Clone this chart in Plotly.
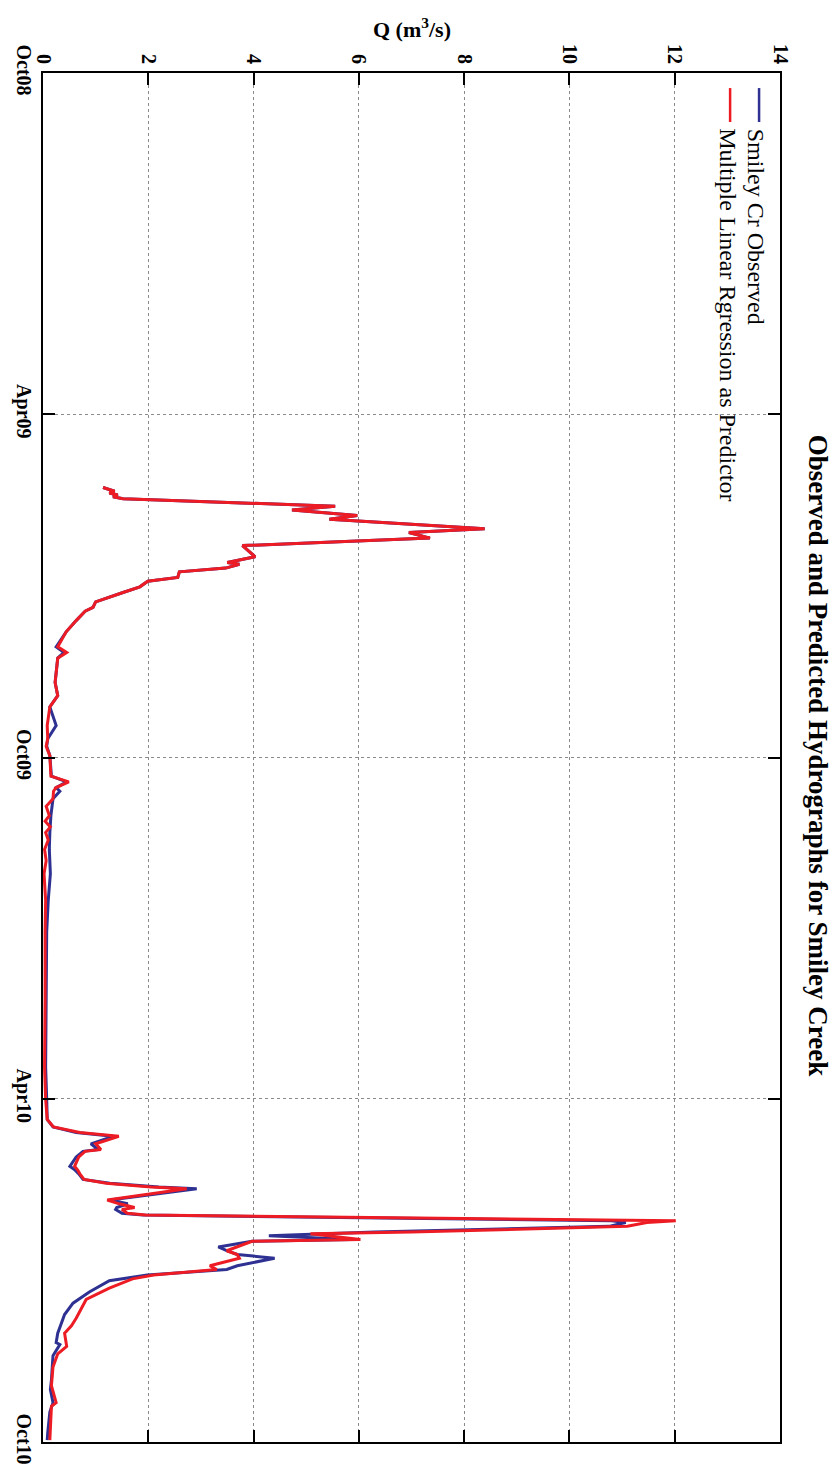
import plotly.graph_objects as go

# ---------------- data ----------------
q_ticks = [0, 2, 4, 6, 8, 10, 12, 14]
date_ticks = ["2008-10-01", "2009-04-01", "2009-10-01", "2010-04-01", "2010-10-01"]
date_labels = ["Oct08", "Apr09", "Oct09", "Apr10", "Oct10"]

obs_dates = [
    "2009-05-10", "2009-05-12", "2009-05-13", "2009-05-14", "2009-05-15", "2009-05-16",
    "2009-05-20", "2009-05-22", "2009-05-25", "2009-05-27", "2009-06-01", "2009-06-03",
    "2009-06-06", "2009-06-10", "2009-06-16", "2009-06-19", "2009-06-20", "2009-06-22",
    "2009-06-24", "2009-06-27", "2009-06-29", "2009-07-02", "2009-07-05", "2009-07-10",
    "2009-07-13", "2009-07-15", "2009-07-20", "2009-07-26", "2009-08-03", "2009-08-06",
    "2009-08-09", "2009-08-22", "2009-08-29", "2009-09-04", "2009-09-14", "2009-09-21",
    "2009-09-25", "2009-09-30", "2009-10-11", "2009-10-14", "2009-10-17", "2009-10-19",
    "2009-10-23", "2009-11-01", "2009-11-10", "2009-11-19", "2009-12-02", "2009-12-16",
    "2010-01-02", "2010-02-07", "2010-03-15", "2010-04-01",
    "2010-04-12", "2010-04-16", "2010-04-19", "2010-04-21", "2010-04-25", "2010-04-28",
    "2010-04-29", "2010-05-02", "2010-05-07", "2010-05-09", "2010-05-11", "2010-05-14",
    "2010-05-16", "2010-05-18", "2010-05-19", "2010-05-25", "2010-05-27", "2010-05-29",
    "2010-05-30", "2010-06-01", "2010-06-02", "2010-06-05", "2010-06-06", "2010-06-08",
    "2010-06-11", "2010-06-13", "2010-06-15", "2010-06-16", "2010-06-19", "2010-06-21",
    "2010-06-23", "2010-06-25", "2010-06-29", "2010-07-01", "2010-07-04", "2010-07-07",
    "2010-07-13", "2010-07-19", "2010-07-25", "2010-08-04", "2010-08-09", "2010-08-10",
    "2010-08-16", "2010-08-29", "2010-09-03", "2010-09-10", "2010-09-15", "2010-09-26",
    "2010-09-30",
]
obs_q = [
    1.14, 1.36, 1.26, 1.42, 1.33, 1.52,
    5.55, 4.73, 5.97, 5.44, 8.39, 6.95,
    7.35, 3.79, 4.03, 3.50, 3.73, 3.47,
    2.59, 2.56, 1.99, 1.84, 1.52, 1.00,
    0.95, 0.80, 0.63, 0.44, 0.25, 0.40,
    0.28, 0.23, 0.28, 0.13, 0.25, 0.09,
    0.07, 0.13, 0.16, 0.45, 0.25, 0.32,
    0.19, 0.15, 0.13, 0.12, 0.14, 0.10,
    0.07, 0.06, 0.05, 0.07,
    0.08, 0.19, 0.63, 1.33, 0.91, 1.05,
    0.76, 0.63, 0.51, 0.61, 0.68, 0.76,
    1.27, 2.20, 2.92, 1.27, 1.61, 1.40,
    1.38, 1.50, 1.90, 10.80, 11.07, 10.75,
    6.30, 4.29, 5.87, 3.97, 3.33, 3.49,
    3.69, 4.40, 3.69, 3.49, 1.98, 1.26,
    0.88, 0.57, 0.41, 0.28, 0.25, 0.32,
    0.19, 0.16, 0.14, 0.19, 0.13, 0.09,
    0.08,
]

pred_dates = [
    "2009-05-10", "2009-05-12", "2009-05-13", "2009-05-14", "2009-05-15", "2009-05-16",
    "2009-05-20", "2009-05-22", "2009-05-25", "2009-05-27", "2009-06-01", "2009-06-03",
    "2009-06-06", "2009-06-10", "2009-06-16", "2009-06-19", "2009-06-20", "2009-06-22",
    "2009-06-24", "2009-06-27", "2009-06-29", "2009-07-02", "2009-07-05", "2009-07-10",
    "2009-07-13", "2009-07-15", "2009-07-20", "2009-07-26", "2009-08-03", "2009-08-06",
    "2009-08-09", "2009-08-22", "2009-08-29", "2009-09-04", "2009-09-14", "2009-09-21",
    "2009-09-25", "2009-09-30", "2009-10-11", "2009-10-14", "2009-10-17", "2009-10-19",
    "2009-10-23", "2009-10-27", "2009-11-01", "2009-11-04", "2009-11-07", "2009-11-10",
    "2009-11-14", "2009-11-19", "2009-11-25", "2009-12-02", "2009-12-16",
    "2010-01-02", "2010-02-07", "2010-03-15", "2010-04-01",
    "2010-04-12", "2010-04-16", "2010-04-19", "2010-04-21", "2010-04-25", "2010-04-28",
    "2010-04-29", "2010-05-02", "2010-05-07", "2010-05-09", "2010-05-11", "2010-05-14",
    "2010-05-16", "2010-05-18", "2010-05-19", "2010-05-25", "2010-05-27", "2010-05-29",
    "2010-05-30", "2010-06-01", "2010-06-02", "2010-06-05", "2010-06-06", "2010-06-08",
    "2010-06-11", "2010-06-12", "2010-06-15", "2010-06-16", "2010-06-19", "2010-06-21",
    "2010-06-23", "2010-06-25", "2010-06-29", "2010-07-01", "2010-07-04", "2010-07-06",
    "2010-07-11", "2010-07-17", "2010-07-27", "2010-07-31", "2010-08-04", "2010-08-11",
    "2010-08-15", "2010-08-22", "2010-09-01", "2010-09-10", "2010-09-12", "2010-09-23",
    "2010-09-30",
]
pred_q = [
    1.14, 1.36, 1.26, 1.42, 1.33, 1.52,
    5.55, 4.73, 5.97, 5.44, 8.39, 6.95,
    7.35, 3.79, 4.03, 3.50, 3.73, 3.47,
    2.59, 2.56, 1.99, 1.84, 1.52, 1.00,
    0.95, 0.80, 0.63, 0.44, 0.28, 0.45,
    0.28, 0.23, 0.28, 0.13, 0.08, 0.09,
    0.06, 0.13, 0.15, 0.49, 0.25, 0.20,
    0.19, 0.06, 0.12, 0.04, 0.14, 0.05,
    0.10, 0.03, 0.06, 0.02, 0.05,
    0.04, 0.04, 0.03, 0.05,
    0.08, 0.20, 0.70, 1.44, 1.00, 1.10,
    0.80, 0.68, 0.60, 0.66, 0.70, 0.78,
    1.20, 2.05, 2.73, 1.22, 1.45, 1.74,
    1.50, 1.60, 1.95, 12.02, 11.47, 11.10,
    7.00, 5.08, 6.03, 3.97, 3.69, 3.49,
    3.69, 3.73, 3.17, 3.30, 2.10, 1.70,
    1.26, 0.82, 0.63, 0.54, 0.41, 0.45,
    0.28, 0.19, 0.16, 0.25, 0.16, 0.14,
    0.13,
]

series_names = ["Smiley Cr Observed", "Multiple Linear Rgression as Predictor"]
title_text = "Observed and Predicted Hydrographs for Smiley Creek"

# ---------------- figure ----------------
BLUE = "#2E3192"
RED = "#ED1C24"
SERIF = "Liberation Serif"

fig = go.Figure()
fig.add_trace(go.Scatter(x=obs_q, y=obs_dates, mode="lines", name=series_names[0],
                         line=dict(color=BLUE, width=3), showlegend=False))
fig.add_trace(go.Scatter(x=pred_q, y=pred_dates, mode="lines", name=series_names[1],
                         line=dict(color=RED, width=3), showlegend=False))

fig.update_xaxes(
    range=[0, 14], side="top", tickvals=q_ticks, ticktext=[str(v) for v in q_ticks],
    tickangle=90, ticks="inside", ticklen=12, tickwidth=2, tickcolor="black",
    showline=True, linewidth=2, linecolor="black", mirror="ticks",
    showgrid=True, gridcolor="#8a8a8a", griddash="dot", gridwidth=1, zeroline=False,
    tickfont=dict(family=SERIF, size=20, color="black", weight="bold"),
)
fig.update_yaxes(
    type="date", range=["2010-10-01", "2008-10-01"], tickvals=date_ticks, ticktext=date_labels,
    tickangle=90, ticks="inside", ticklen=12, tickwidth=2, tickcolor="black",
    showline=True, linewidth=2, linecolor="black", mirror="ticks",
    showgrid=True, gridcolor="#8a8a8a", griddash="dot", gridwidth=1, zeroline=False,
    tickfont=dict(family=SERIF, size=20, color="black", weight="bold"),
)

annotations = [
    dict(text=title_text, xref="paper", yref="paper", x=1.052, y=0.501,
         xanchor="center", yanchor="middle", textangle=90, showarrow=False,
         font=dict(family=SERIF, size=27, color="black", weight="bold")),
    dict(text="Q (m<sup>3</sup>/s)", xref="paper", yref="paper", x=0.5, y=1.033,
         xanchor="center", yanchor="middle", showarrow=False,
         font=dict(family=SERIF, size=22, color="black", weight="bold")),
    dict(text=series_names[0], xref="paper", yref="paper", x=0.967, y=0.961,
         xanchor="center", yanchor="top", textangle=90, showarrow=False,
         font=dict(family=SERIF, size=24, color="black")),
    dict(text=series_names[1], xref="paper", yref="paper", x=0.929, y=0.961,
         xanchor="center", yanchor="top", textangle=90, showarrow=False,
         font=dict(family=SERIF, size=24, color="black")),
]
shapes = [
    dict(type="line", xref="paper", yref="paper", x0=0.9716, x1=0.9716, y0=0.989, y1=0.9642,
         line=dict(color=BLUE, width=2.5)),
    dict(type="line", xref="paper", yref="paper", x0=0.9323, x1=0.9323, y0=0.989, y1=0.9642,
         line=dict(color=RED, width=2.5)),
]

fig.update_layout(
    width=838, height=1478,
    margin=dict(l=39, r=58, t=73, b=36),
    paper_bgcolor="white", plot_bgcolor="white",
    annotations=annotations, shapes=shapes,
    showlegend=False,
)

fig.write_html("out.html")
